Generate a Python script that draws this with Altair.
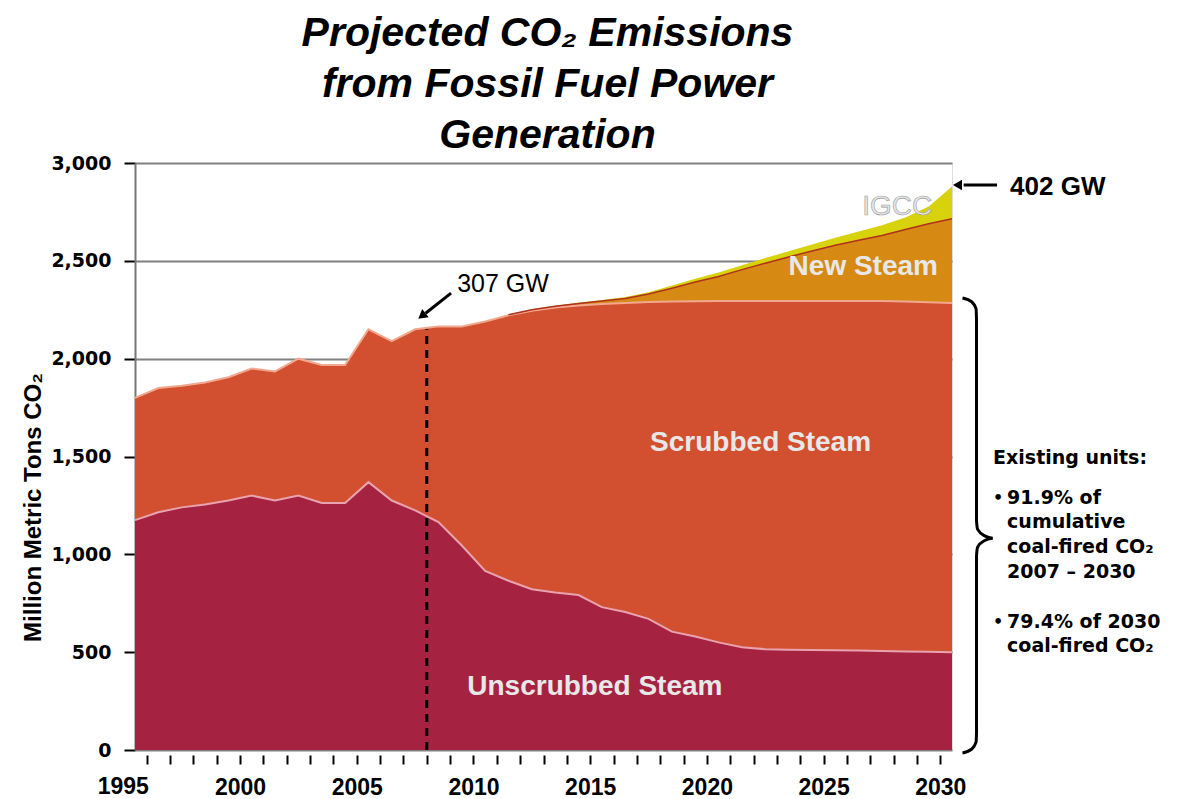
import altair as alt
import pandas as pd

# ---------------- data (million metric tons CO2) -------------
years = list(range(1995, 2031))
unscrubbed = [1175, 1215, 1240, 1255, 1275, 1300, 1275, 1300, 1262, 1262,
              1369, 1275, 1225, 1165, 1045, 915, 865, 822, 805, 792,
              730, 705, 670, 605, 580, 550, 525, 515, 512, 511,
              510, 508, 506, 503, 502, 500]
scrubbed = [625, 635, 622, 623, 630, 650, 660, 700, 706, 706,
            781, 815, 925, 1000, 1120, 1275, 1357, 1423, 1457, 1480,
            1550, 1580, 1620, 1687, 1714, 1745, 1770, 1780, 1783, 1784,
            1785, 1787, 1789, 1789, 1786, 1785]
new_steam = [0] * 16 + [3, 5, 6, 10, 15, 23, 40, 68, 98, 125,
                        160, 193, 225, 255, 285, 310, 335, 368, 402, 430]
igcc = [0] * 17 + [2, 3, 4, 5, 7, 10, 14, 17, 20, 23,
                   26, 29, 33, 38, 45, 52, 62, 88, 165]

series_names = ["Unscrubbed Steam", "Scrubbed Steam", "New Steam", "IGCC"]
series_values = [unscrubbed, scrubbed, new_steam, igcc]
series_colors = ["#A52341", "#D2502F", "#D68A14", "#D8D20C"]
series_first_year = [1995, 1995, 2010, 2011]

x_ticks = [y + 0.5 for y in range(1995, 2030)]
y_ticks = [0, 500, 1000, 1500, 2000, 2500, 3000]

# label positions (data units)
area_labels = ["Unscrubbed Steam", "Scrubbed Steam", "New Steam"]
area_label_x = [2014.7, 2021.8, 2026.2]
area_label_y = [324, 1569, 2468]
igcc_label = ("IGCC", 2027.65, 2775)

gw_line_year = 2007.5
gw_line_top = 2150

notes_text = ["Existing units:", "91.9% of", "cumulative", "coal-fired CO₂",
              "2007 – 2030", "79.4% of 2030", "coal-fired CO₂"]
notes_x = [2031.76, 2032.36, 2032.36, 2032.36, 2032.36, 2032.36, 2032.36]
notes_y = [1492, 1288, 1165, 1037, 910, 654, 531]
bullet_y = [1288, 654]
bullet_x = 2031.76

# ---------------- build tables -------------
rows = []
cum = [0.0] * len(years)
tops = []
for name, vals, first in zip(series_names, series_values, series_first_year):
    new_cum = [c + v for c, v in zip(cum, vals)]
    for i, yr in enumerate(years):
        if yr >= first:
            rows.append({"x": yr, "y": new_cum[i], "y2": cum[i], "series": name})
    tops.append(new_cum)
    cum = new_cum
area_df = pd.DataFrame(rows)

FONT = "Liberation Sans"
x_axis = alt.Axis(values=x_ticks,
                  labelExpr="(datum.value + 0.5) % 5 == 0 ? format(datum.value + 0.5, 'd') : ''",
                  domain=False, grid=False, tickSize=9, tickWidth=2, tickColor="black",
                  offset=5, labelFont=FONT, labelFontSize=23, labelFontWeight="bold",
                  labelColor="black", labelPadding=12, title=None,
                  labelFlush=False, labelOverlap=False)
y_axis = alt.Axis(values=y_ticks, format=",.0f", title="Million Metric Tons CO₂",
                  titleX=-102, titleY=344, titleAngle=270, titleAlign="center",
                  titleBaseline="middle", titleFont=FONT, titleFontSize=24,
                  titleFontWeight="bold", titleColor="black",
                  grid=True, gridColor="#808080", gridWidth=2,
                  domainColor="#777777", domainWidth=2,
                  tickSize=11, tickColor="black", tickWidth=2, labelPadding=13,
                  labelFont="DejaVu Sans", labelFontSize=19, labelFontWeight="bold",
                  labelColor="black", labelOverlap=False)

xs = alt.Scale(domain=[1995, 2030], nice=False, zero=False)
ys = alt.Scale(domain=[0, 3000], nice=False, zero=False)
X = alt.X("x:Q", scale=xs, axis=x_axis)
Y = alt.Y("y:Q", scale=ys, axis=y_axis)

areas = alt.Chart(area_df).mark_area(interpolate="linear").encode(
    x=X, y=Y, y2="y2:Q",
    color=alt.Color("series:N", scale=alt.Scale(domain=series_names, range=series_colors),
                    legend=None))

layers = [areas]

# boundary lines
line_styles = [("#E9A3B0", 2, 1995), ("#F2A88E", 2, 1995), ("#B0301C", 1.5, 2011)]
for top, (col, w, first) in zip(tops[:3], line_styles):
    d = pd.DataFrame({"x": [y for y in years if y >= first],
                      "y": [t for y, t in zip(years, top) if y >= first]})
    layers.append(alt.Chart(d).mark_line(color=col, strokeWidth=w).encode(x=X, y=Y))

# dashed line
rule_df = pd.DataFrame({"x": [gw_line_year], "y": [0], "y2": [gw_line_top]})
layers.append(alt.Chart(rule_df).mark_rule(color="black", strokeWidth=3,
                                           strokeDash=[8, 6]).encode(x=X, y=Y, y2="y2:Q"))

# area labels
lab_df = pd.DataFrame({"x": area_label_x, "y": area_label_y, "t": area_labels})
layers.append(alt.Chart(lab_df).mark_text(font=FONT, fontSize=28, fontWeight="bold",
                                          color="#E8E8E8",
                                          align="center", baseline="middle").encode(
    x=X, y=Y, text="t:N"))
ig_df = pd.DataFrame({"x": [igcc_label[1]], "y": [igcc_label[2]], "t": [igcc_label[0]]})
layers.append(alt.Chart(ig_df).mark_text(font=FONT, fontSize=28, color="#E6E6E6",
                                         stroke="#9A9A9A", strokeWidth=0.6,
                                         align="center", baseline="middle").encode(
    x=X, y=Y, text="t:N"))

# arrows
arr_df = pd.DataFrame({"x": [2008.54, 2007.45, 2031.93, 2030.5],
                       "y": [2335, 2232, 2887, 2887],
                       "g": ["a", "a", "b", "b"]})
layers.append(alt.Chart(arr_df).mark_line(color="black", strokeWidth=3).encode(
    x=X, y=Y, detail="g:N"))
head_df = pd.DataFrame({"x": [2007.34, 2030.3], "y": [2223, 2887], "a": [232, 270]})
layers.append(alt.Chart(head_df).mark_point(shape="triangle", filled=True, color="black",
                                            size=110, opacity=1).encode(
    x=X, y=Y, angle=alt.Angle("a:Q", scale=None)))

gw_df = pd.DataFrame({"x": [2008.8, 2032.49], "y": [2381, 2877], "t": ["307 GW", "402 GW"],
                      "w": ["normal", "bold"]})
layers.append(alt.Chart(gw_df[gw_df.w == "normal"]).mark_text(
    font=FONT, fontSize=25, align="left", baseline="middle", color="black").encode(
    x=X, y=Y, text="t:N"))
layers.append(alt.Chart(gw_df[gw_df.w == "bold"]).mark_text(
    font=FONT, fontSize=26, fontWeight="bold", align="left", baseline="middle",
    color="black").encode(x=X, y=Y, text="t:N"))

# 1995 label (lies left of the first tick)
y95 = pd.DataFrame({"x": [1994.5], "y": [0], "t": ["1995"]})
layers.append(alt.Chart(y95).mark_text(font=FONT, fontSize=23, fontWeight="bold",
                                       color="black", align="center", baseline="top",
                                       dy=26).encode(x=X, y=Y, text="t:N"))

# right-hand notes
notes_df = pd.DataFrame({"x": notes_x, "y": notes_y, "t": notes_text})
layers.append(alt.Chart(notes_df).mark_text(font="DejaVu Sans", fontSize=19,
                                            fontWeight="bold", align="left",
                                            baseline="middle", color="black").encode(
    x=X, y=Y, text="t:N"))
bul_df = pd.DataFrame({"x": [bullet_x] * len(bullet_y), "y": bullet_y, "t": ["•"] * len(bullet_y)})
layers.append(alt.Chart(bul_df).mark_text(font="DejaVu Sans", fontSize=16,
                                          fontWeight="bold", align="left",
                                          baseline="middle", color="black").encode(
    x=X, y=Y, text="t:N"))

# curly brace spanning existing units (0 .. scrubbed top in 2030)
b_top = tops[1][-1]
b_bot = 0
b_mid = (b_top + b_bot) / 2 - 60
x0, xv, xt = 2030.45, 2031.05, 2031.75
brace_pts = [(x0, b_top + 25), (x0 + 0.4, b_top + 5), (xv - 0.02, b_top - 30), (xv, b_top - 90),
             (xv, b_mid + 90), (xv + 0.05, b_mid + 45), (xv + 0.35, b_mid + 12), (xt, b_mid),
             (xv + 0.35, b_mid - 12), (xv + 0.05, b_mid - 45), (xv, b_mid - 90),
             (xv, b_bot + 90), (xv - 0.02, b_bot + 40), (x0 + 0.4, b_bot + 5), (x0, b_bot - 15)]
brace_df = pd.DataFrame({"x": [p[0] for p in brace_pts], "y": [p[1] for p in brace_pts],
                         "o": list(range(len(brace_pts)))})
layers.append(alt.Chart(brace_df).mark_line(color="black", strokeWidth=3,
                                            interpolate="monotone").encode(
    x=X, y=Y, order="o:Q"))

chart = alt.layer(*layers).properties(
    width=817, height=587,
    autosize=alt.AutoSizeParams(type="none"),
    padding={"left": 135, "top": 163, "right": 226, "bottom": 49},
    title=alt.TitleParams(text=["Projected CO₂ Emissions", "from Fossil Fuel Power",
                                "Generation"],
                          font=FONT, fontSize=41, fontStyle="italic", fontWeight="bold",
                          lineHeight=51, anchor="middle", offset=6, dx=4, dy=9,
                          color="black"),
).configure_view(stroke="#777777", strokeWidth=2).configure(background="white")

chart.save("out.html", embed_options={"renderer": "svg", "actions": False})
